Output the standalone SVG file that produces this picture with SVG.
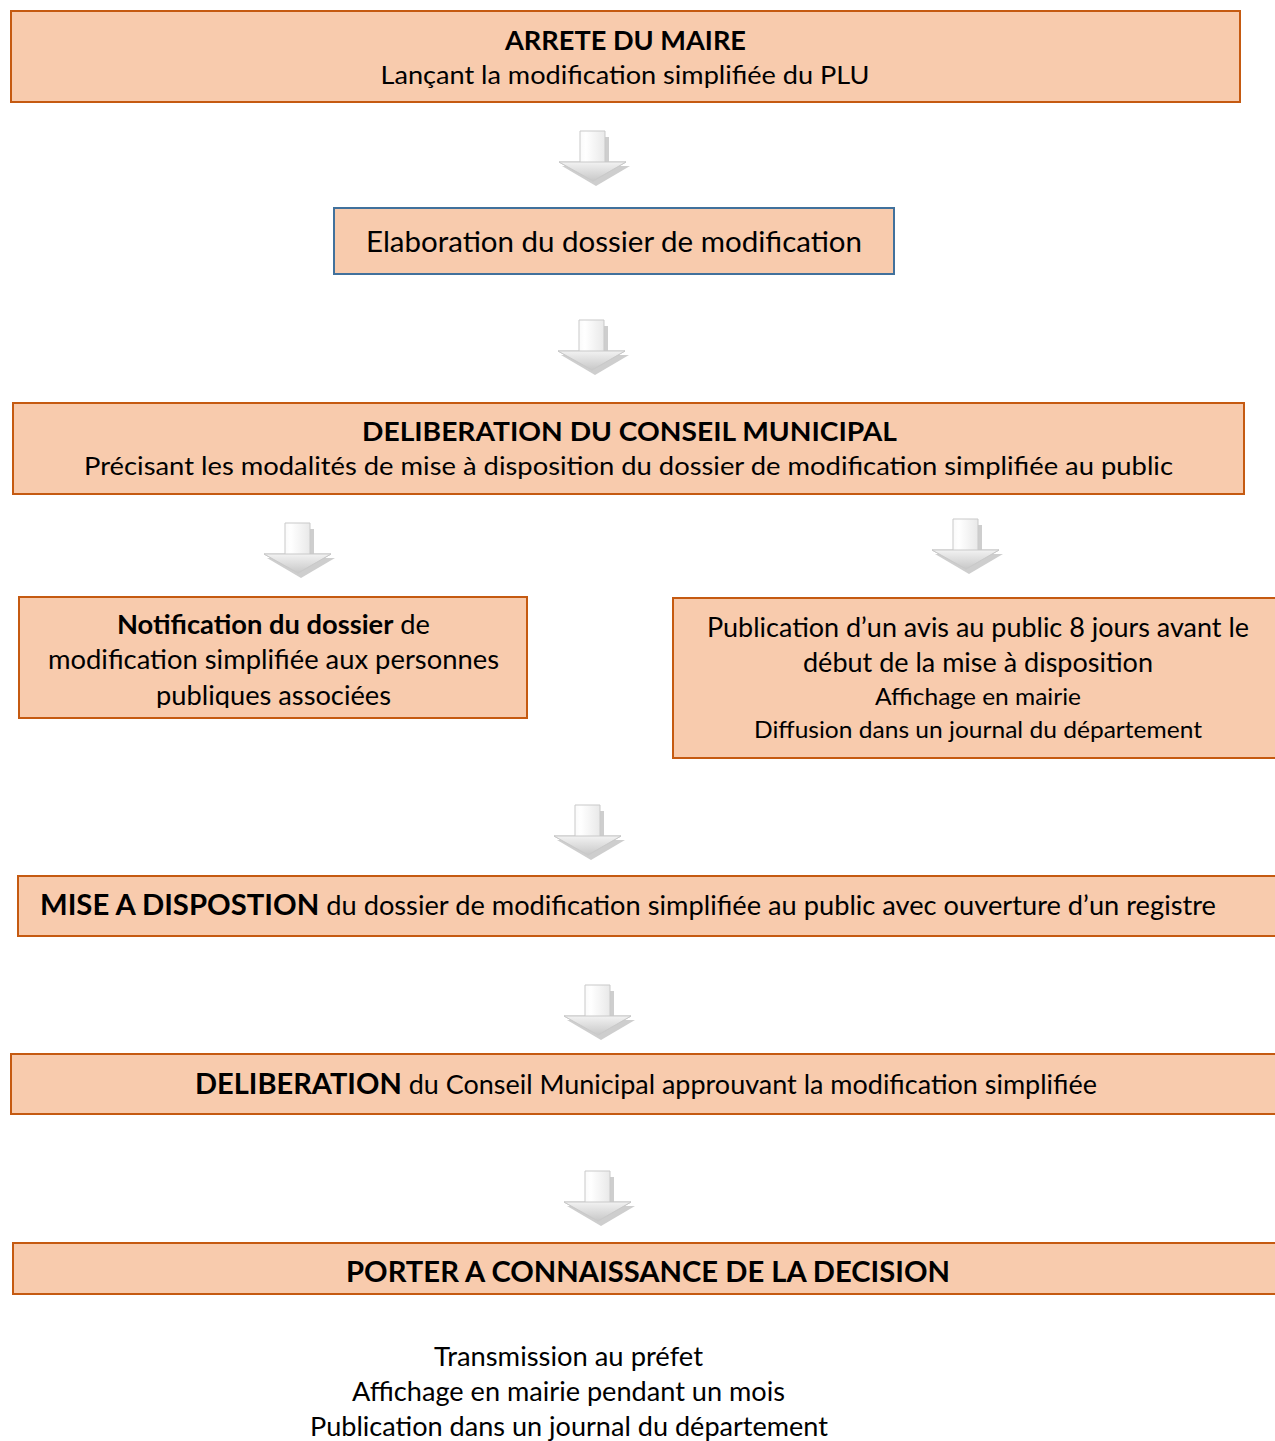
<svg xmlns="http://www.w3.org/2000/svg" width="1275" height="1441" viewBox="0 0 1275 1441">
<style>
.box{fill:#F8CBAD;stroke:#C55A11;stroke-width:2}
.boxb{fill:#F8CBAD;stroke:#41719C;stroke-width:2}
.t{font-family:Lato,"Open Sans","Liberation Sans",sans-serif;fill:#000;text-anchor:middle}
.h{font-family:Lato,"Liberation Sans",sans-serif;font-weight:bold;fill:#000;text-anchor:middle}
.b{font-weight:bold}
</style>
<defs>
<linearGradient id="ag" x1="0" y1="0" x2="1" y2="0">
<stop offset="0" stop-color="#e6e6e6"/>
<stop offset="0.4" stop-color="#ffffff"/>
<stop offset="1" stop-color="#d0d0d0"/>
</linearGradient>
<linearGradient id="hg" x1="0" y1="0" x2="0" y2="1">
<stop offset="0" stop-color="#f2f2f2"/>
<stop offset="1" stop-color="#c8c8c8"/>
</linearGradient>
<g id="arrow">
<polygon points="-9,6 16,6 16,35 37,35 3,55 -31,35 -9,35" fill="#a6a6a6" opacity="0.55"/>
<polygon points="-13,0 12,0 12,31 33,31 0,50 -34,31 -13,31" fill="url(#ag)" stroke="#c9c9c9" stroke-width="1"/>
<polygon points="-34,31 33,31 0,50" fill="url(#hg)" stroke="#c9c9c9" stroke-width="1"/>
</g>
<clipPath id="c4"><rect x="19" y="597" width="508" height="111"/></clipPath>
</defs>

<g id="connectors">
<use href="#arrow" x="593" y="131"/>
<use href="#arrow" x="592" y="320"/>
<use href="#arrow" x="298" y="523"/>
<use href="#arrow" x="966" y="519"/>
<use href="#arrow" x="588" y="805"/>
<use href="#arrow" x="598" y="985"/>
<use href="#arrow" x="598" y="1171"/>
</g>

<g id="n1">
<rect class="box" x="11" y="11" width="1229" height="91"/>
<text class="h" x="625.5" y="50" font-size="27" textLength="241" lengthAdjust="spacingAndGlyphs">ARRETE DU MAIRE</text>
<text class="t" x="625" y="84" font-size="25.5" textLength="489" lengthAdjust="spacingAndGlyphs">Lançant la modification simplifiée du PLU</text>
</g>

<g id="n2">
<rect class="boxb" x="334" y="208" width="560" height="66"/>
<text class="t" x="614" y="252" font-size="29" textLength="496" lengthAdjust="spacingAndGlyphs">Elaboration du dossier de modification</text>
</g>

<g id="n3">
<rect class="box" x="13" y="403" width="1231" height="91"/>
<text class="h" x="629.5" y="441" font-size="27.5" textLength="535" lengthAdjust="spacingAndGlyphs">DELIBERATION DU CONSEIL MUNICIPAL</text>
<text class="t" x="628.5" y="475" font-size="25.5" textLength="1089" lengthAdjust="spacingAndGlyphs">Précisant les modalités de mise à disposition du dossier de modification simplifiée au public</text>
</g>

<g id="n4">
<rect class="box" x="19" y="597" width="508" height="121"/>
<g clip-path="url(#c4)">
<text class="t" x="273.5" y="634" font-size="26.5" textLength="313" lengthAdjust="spacingAndGlyphs"><tspan class="b">Notification du dossier</tspan> de</text>
<text class="t" x="273.5" y="669" font-size="26.5" textLength="451" lengthAdjust="spacingAndGlyphs">modification simplifiée aux personnes</text>
<text class="t" x="273.5" y="705" font-size="26.5" textLength="235" lengthAdjust="spacingAndGlyphs">publiques associées</text>
</g>
</g>

<g id="n5">
<rect class="box" x="673" y="598" width="620" height="160"/>
<text class="t" x="978" y="637" font-size="27" textLength="542" lengthAdjust="spacingAndGlyphs">Publication d’un avis au public 8 jours avant le</text>
<text class="t" x="978" y="672" font-size="27" textLength="350" lengthAdjust="spacingAndGlyphs">début de la mise à disposition</text>
<text class="t" x="978" y="705" font-size="23.5" textLength="206" lengthAdjust="spacingAndGlyphs">Affichage en mairie</text>
<text class="t" x="978" y="738" font-size="23.5" textLength="448" lengthAdjust="spacingAndGlyphs">Diffusion dans un journal du département</text>
</g>

<g id="n6">
<rect class="box" x="18" y="876" width="1275" height="60"/>
<text class="t" x="628" y="915" font-size="26.5" textLength="1176" lengthAdjust="spacingAndGlyphs"><tspan class="b" font-size="28.5">MISE A DISPOSTION</tspan> du dossier de modification simplifiée au public avec ouverture d’un registre</text>
</g>

<g id="n7">
<rect class="box" x="11" y="1054" width="1280" height="60"/>
<text class="t" x="646" y="1094" font-size="26.5" textLength="902" lengthAdjust="spacingAndGlyphs"><tspan class="b" font-size="28.5">DELIBERATION</tspan> du Conseil Municipal approuvant la modification simplifiée</text>
</g>

<g id="n8">
<rect class="box" x="13" y="1243" width="1280" height="51"/>
<text class="h" x="648" y="1282" font-size="28.5" textLength="604" lengthAdjust="spacingAndGlyphs">PORTER A CONNAISSANCE DE LA DECISION</text>
</g>

<g id="n9">
<text class="t" x="568.5" y="1366" font-size="26.5" textLength="269" lengthAdjust="spacingAndGlyphs">Transmission au préfet</text>
<text class="t" x="568.5" y="1401" font-size="26.5" textLength="433" lengthAdjust="spacingAndGlyphs">Affichage en mairie pendant un mois</text>
<text class="t" x="569" y="1436" font-size="26.5" textLength="518" lengthAdjust="spacingAndGlyphs">Publication dans un journal du département</text>
</g>
</svg>
